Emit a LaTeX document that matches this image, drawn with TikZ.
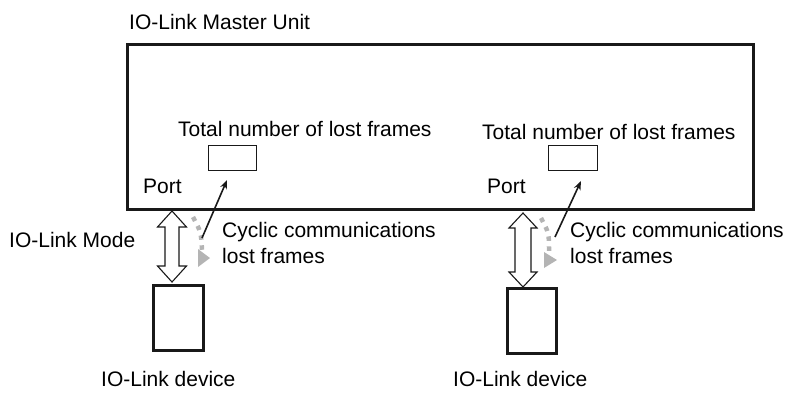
\documentclass[tikz,border=0pt]{standalone}
\usepackage{fontspec}
\setmainfont{Liberation Sans}
\usetikzlibrary{arrows.meta}
\definecolor{dotgray}{RGB}{180,180,180}
\begin{document}
\begin{tikzpicture}[x=1pt,y=-1pt,
  lbl/.style={anchor=base west,inner sep=0pt,font=\fontsize{21}{25}\selectfont},
  thickbox/.style={draw=black!90,line width=3pt},
  smallbox/.style={draw=black!90,line width=1pt},
  dblarrow/.style={draw=black!90,line width=1.1pt,fill=white,line join=miter},
  lostarrow/.style={draw=black!90,line width=1.6pt,-{Stealth[length=9pt,width=7pt]}},
  graydots/.style={draw=dotgray,line width=4.5pt,dash pattern=on 4.5pt off 5.5pt},
  graytri/.style={fill=dotgray}]
\useasboundingbox (0,0) rectangle (787,392);
% master unit
\node[lbl] (mastertitle) at (129,29) {IO-Link Master Unit};
\draw[thickbox] (127,44) rectangle (753,209);
\coordinate (master) at (127,44);
% small counter boxes
\draw[smallbox] (208,145) rectangle (256,170);
\draw[smallbox] (548,145) rectangle (597,170);
\node[lbl] (totL) at (178,136) {Total number of lost frames};
\node[lbl] (totR) at (482,139) {Total number of lost frames};
\node[lbl] (portL) at (143,193) {Port};
\node[lbl] (portR) at (487,193) {Port};
% devices
\draw[thickbox] (153,285) rectangle (203,350);
\draw[thickbox] (507,288) rectangle (556,353);
\node[lbl] (devL) at (101,386) {IO-Link device};
\node[lbl] (devR) at (453,386) {IO-Link device};
% IO-Link mode
\node[lbl] (mode) at (9,247) {IO-Link Mode};
% double arrows
\draw[dblarrow] (172,211) -- (186.5,227) -- (179,227) -- (179,266) -- (186.5,266) -- (172,282)
  -- (157.5,266) -- (165,266) -- (165,227) -- (157.5,227) -- cycle;
\draw[dblarrow] (523,213) -- (537,228) -- (531,228) -- (531,272) -- (537,272) -- (523,287)
  -- (509,272) -- (515,272) -- (515,228) -- (509,228) -- cycle;
% gray dotted lost-frame arrows
\draw[graydots] (193,217) .. controls (201,232) .. (202,250);
\fill[graytri] (198,249) -- (210,258) -- (198,267) -- cycle;
\draw[graydots] (541,218) .. controls (549,233) .. (549,251);
\fill[graytri] (544,252) -- (557,260) -- (544,268) -- cycle;
% black arrows to counters
\coordinate (aLs) at (202,238);
\coordinate (aLe) at (227,180);
\coordinate (aRs) at (555,237);
\coordinate (aRe) at (581,181);
\draw[lostarrow] (aLs) -- (aLe);
\draw[lostarrow] (aRs) -- (aRe);
% cyclic texts
\node[lbl] (cycL1) at (222,237) {Cyclic communications};
\node[lbl] (cycL2) at (222,263) {lost frames};
\node[lbl] (cycR1) at (570,237) {Cyclic communications};
\node[lbl] (cycR2) at (570,263) {lost frames};
\end{tikzpicture}
\end{document}
